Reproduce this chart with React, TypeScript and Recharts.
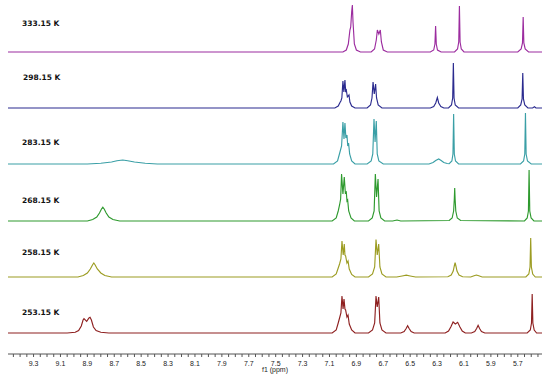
import React from 'react';
import { LineChart, Line, XAxis, YAxis } from 'recharts';

// temperatures, top trace first
const temps = ['333.15 K', '298.15 K', '283.15 K', '268.15 K', '258.15 K', '253.15 K'];

// [ppm, intensity]
const t333: number[][] = [
  [9.49, 0], [7.0, 0], [6.975, 2], [6.96, 8], [6.948, 22], [6.942, 25], [6.935, 40], [6.93, 47], [6.925, 30], [6.915, 8], [6.9, 2], [6.87, 0],
  [6.79, 0], [6.765, 3], [6.752, 12], [6.744, 22], [6.733, 18], [6.722, 22], [6.714, 10], [6.7, 2], [6.67, 0],
  [6.35, 0], [6.325, 2], [6.316, 8], [6.311, 26], [6.306, 8], [6.297, 2], [6.27, 0],
  [6.17, 0], [6.148, 3], [6.139, 10], [6.134, 46], [6.129, 10], [6.12, 3], [6.1, 0],
  [5.7, 0], [5.675, 3], [5.665, 9], [5.66, 35], [5.655, 9], [5.645, 3], [5.62, 0], [5.52, 0],
];

const t298: number[][] = [
  [9.49, 0], [7.06, 0], [7.035, 2], [7.02, 6], [7.015, 7], [7.008, 10], [7.0, 27], [6.993, 16], [6.985, 28], [6.98, 17], [6.975, 18], [6.967, 11], [6.955, 13], [6.948, 6], [6.935, 2], [6.91, 0],
  [6.82, 0], [6.795, 3], [6.784, 10], [6.776, 26], [6.767, 14], [6.757, 24], [6.75, 10], [6.738, 3], [6.71, 0],
  [6.35, 0], [6.325, 1.5], [6.31, 5], [6.298, 10.5], [6.288, 5], [6.272, 1.5], [6.25, 0],
  [6.215, 0], [6.193, 3], [6.184, 10], [6.179, 45], [6.174, 10], [6.165, 3], [6.14, 0],
  [5.7, 0], [5.678, 3], [5.668, 9], [5.663, 35], [5.658, 9], [5.648, 3], [5.625, 0],
  [5.59, 0], [5.576, 1.2], [5.565, 0], [5.52, 0],
];

const t283: number[][] = [
  [9.49, 0], [8.9, 0], [8.8, 0.8], [8.72, 2], [8.68, 3.3], [8.637, 4], [8.6, 3.3], [8.55, 2], [8.47, 0.8], [8.38, 0],
  [7.07, 0], [7.04, 3], [7.028, 9], [7.02, 13], [7.01, 18], [7.0, 42], [6.992, 25], [6.985, 41], [6.978, 26], [6.97, 29], [6.964, 18], [6.958, 21], [6.95, 10], [6.935, 3], [6.91, 0],
  [6.82, 0], [6.79, 3], [6.778, 10], [6.769, 45], [6.761, 22], [6.752, 43], [6.745, 10], [6.733, 3], [6.7, 0],
  [6.36, 0], [6.33, 1.5], [6.31, 3.5], [6.288, 5], [6.27, 3.5], [6.25, 1.5], [6.225, 0.5],
  [6.21, 0.3], [6.19, 3], [6.182, 10], [6.177, 50], [6.172, 10], [6.163, 3], [6.14, 0],
  [5.68, 0], [5.657, 3], [5.648, 10], [5.643, 51], [5.638, 10], [5.628, 3], [5.6, 0], [5.52, 0],
];

const t268: number[][] = [
  [9.49, 0], [8.9, 0], [8.86, 1.5], [8.83, 4], [8.81, 8], [8.795, 12], [8.785, 13.7], [8.775, 12], [8.76, 8], [8.74, 4], [8.71, 1.5], [8.66, 0],
  [7.08, 0], [7.05, 3], [7.035, 10], [7.025, 16], [7.017, 22], [7.01, 47], [7.0, 27], [6.99, 44], [6.982, 28], [6.975, 29], [6.97, 20], [6.965, 21], [6.957, 10], [6.94, 3], [6.915, 0],
  [6.81, 0], [6.782, 3], [6.768, 10], [6.759, 47], [6.75, 24], [6.739, 42], [6.731, 10], [6.718, 3], [6.69, 0],
  [6.63, 0], [6.598, 1], [6.57, 0],
  [6.21, 0.5], [6.188, 3], [6.177, 10], [6.172, 22], [6.169, 33], [6.166, 22], [6.161, 10], [6.15, 3], [6.125, 0.5],
  [5.65, 0], [5.63, 3], [5.621, 10], [5.616, 51], [5.611, 10], [5.601, 3], [5.58, 0], [5.52, 0],
];

const t258: number[][] = [
  [9.49, 0], [8.97, 0], [8.93, 1.5], [8.9, 4], [8.878, 8], [8.862, 12], [8.852, 14], [8.842, 12], [8.826, 8], [8.8, 4], [8.77, 1.5], [8.72, 0],
  [7.08, 0], [7.05, 3], [7.035, 9], [7.025, 13], [7.015, 18], [7.007, 36], [6.998, 22], [6.99, 33], [6.985, 22], [6.98, 21], [6.97, 14], [6.962, 16], [6.953, 8], [6.935, 2.5], [6.91, 0],
  [6.81, 0], [6.78, 3], [6.764, 10], [6.754, 37.5], [6.745, 22], [6.734, 33], [6.725, 10], [6.71, 3], [6.68, 0],
  [6.6, 0], [6.56, 1], [6.529, 1.8], [6.5, 1], [6.46, 0],
  [6.22, 0.3], [6.195, 2], [6.18, 6], [6.172, 11], [6.166, 14.3], [6.16, 11], [6.152, 6], [6.137, 2], [6.11, 0.3],
  [6.05, 0], [6.025, 1.2], [6.008, 2], [5.99, 1.2], [5.965, 0],
  [5.64, 0], [5.618, 3], [5.609, 10], [5.604, 39], [5.599, 10], [5.589, 3], [5.57, 0], [5.52, 0],
];

const t253: number[][] = [
  [9.49, 0], [9.05, 0], [8.99, 0.8], [8.965, 2.5], [8.945, 7], [8.932, 13], [8.925, 14.3], [8.905, 11.7], [8.888, 15], [8.88, 15.7], [8.87, 13], [8.855, 6], [8.835, 2.5], [8.8, 0.8], [8.74, 0],
  [7.08, 0], [7.05, 3], [7.035, 10], [7.025, 15], [7.015, 20], [7.007, 37], [6.999, 24], [6.992, 34], [6.985, 24], [6.98, 23], [6.97, 16], [6.962, 18], [6.953, 9], [6.935, 3], [6.91, 0],
  [6.81, 0], [6.78, 3], [6.764, 10], [6.754, 37], [6.745, 26], [6.734, 36], [6.725, 10], [6.71, 3], [6.68, 0],
  [6.57, 0], [6.545, 1.5], [6.53, 4.5], [6.519, 7.3], [6.508, 4.5], [6.493, 1.5], [6.47, 0],
  [6.24, 0], [6.215, 2], [6.198, 6], [6.181, 11], [6.164, 9], [6.147, 10.7], [6.13, 6], [6.113, 2], [6.09, 0],
  [6.045, 0], [6.02, 1.5], [6.006, 4.5], [5.995, 7.7], [5.984, 4.5], [5.97, 1.5], [5.945, 0],
  [5.63, 0], [5.607, 3], [5.598, 10], [5.593, 39], [5.588, 10], [5.578, 3], [5.56, 0], [5.52, 0],
];

const traces = [t333, t298, t283, t268, t258, t253];

// labelled ticks on the ppm axis
const tickLabels = ['9.3', '9.1', '8.9', '8.7', '8.5', '8.3', '8.1', '7.9', '7.7', '7.5', '7.3', '7.1', '6.9', '6.7', '6.5', '6.3', '6.1', '5.9', '5.7'];

const colors = ['#9c2c9f', '#2b2b8f', '#3a9fa6', '#2e9a2e', '#9c9c22', '#8e2020'];
// vertical offset of each trace's baseline
const offsets = [302, 246, 190, 133, 77, 21];
const labelTops = [19, 73, 138, 196, 248, 308];

const allTicks: number[] = [];
for (let i = 189; i >= 111; i--) allTicks.push(i / 20);

const fmtTick = (v: number) => {
  const s = v.toFixed(1);
  return Math.abs(v * 10 - Math.round(v * 10)) < 1e-6 && tickLabels.includes(s) ? s : '';
};

export default function App() {
  const series = traces.map((t, i) => t.map(([x, h]) => ({ x, y: offsets[i] + h })));
  return (
    <div style={{ position: 'absolute', left: 0, top: 0, width: 550, height: 380, background: '#fff' }}>
      <LineChart width={550} height={380} margin={{ top: 0, right: 8, left: 8, bottom: 0 }}>
        <XAxis
          dataKey="x"
          type="number"
          domain={[5.52, 9.49]}
          reversed
          allowDataOverflow
          ticks={allTicks}
          interval={0}
          tickFormatter={fmtTick}
          tickSize={3}
          tickMargin={4}
          height={26}
          stroke="#555"
          tick={{ fontSize: 7, fill: '#222', fontFamily: 'Liberation Sans' }}
          label={{ value: 'f1 (ppm)', position: 'insideBottom', offset: 8, fontSize: 7, fill: '#222', fontFamily: 'Liberation Sans' }}
        />
        <YAxis hide type="number" domain={[0, 354]} allowDataOverflow />
        {series.map((d, i) => (
          <Line
            key={temps[i]}
            data={d}
            dataKey="y"
            type="linear"
            stroke={colors[i]}
            strokeWidth={1.15}
            dot={false}
            isAnimationActive={false}
          />
        ))}
      </LineChart>
      {temps.map((t, i) => (
        <div
          key={t}
          style={{
            position: 'absolute',
            left: i === 1 ? 23 : 22,
            top: labelTops[i],
            fontFamily: 'DejaVu Sans',
            fontWeight: 'bold',
            fontSize: 7.5,
            lineHeight: '10px',
            color: '#111',
            whiteSpace: 'nowrap',
          }}
        >
          {t}
        </div>
      ))}
    </div>
  );
}
